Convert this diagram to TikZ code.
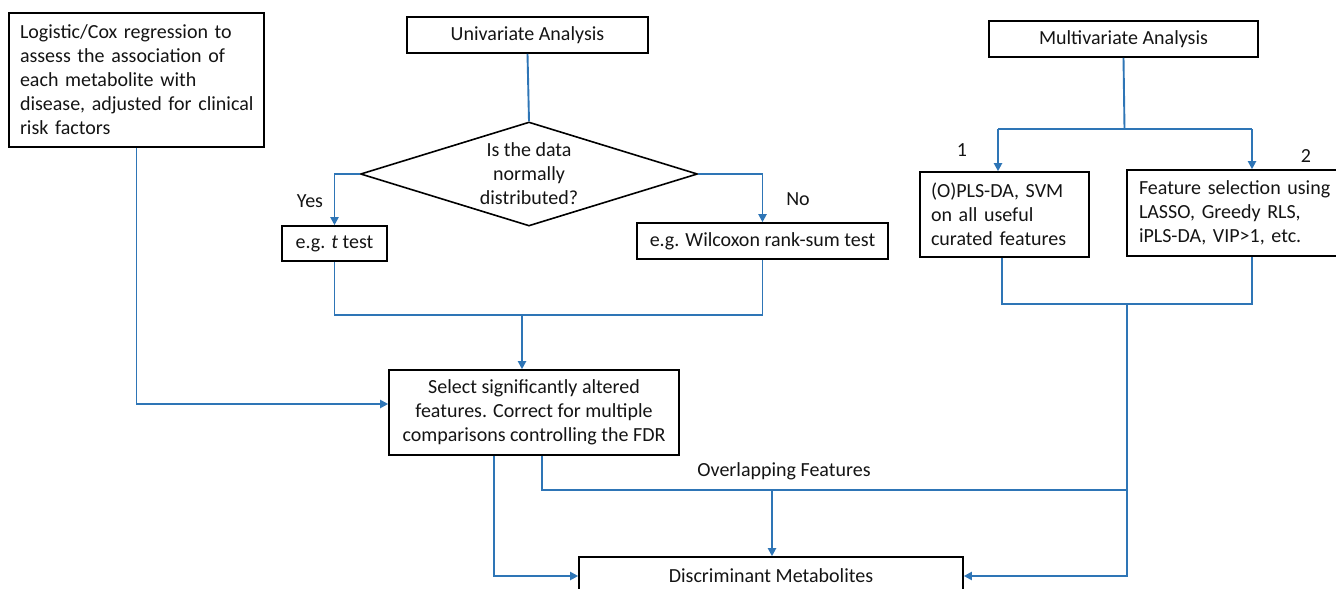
\documentclass[tikz,border=0pt]{standalone}
\usepackage{fontspec}
\setmainfont{Carlito}
\usetikzlibrary{arrows.meta,shapes.geometric,calc}
\definecolor{lblue}{RGB}{46,117,182}
\definecolor{txt}{RGB}{20,20,20}
\begin{document}
\begin{tikzpicture}[x=1pt,y=-1pt,
 box/.style={draw=black, line width=1.6pt, inner ysep=0pt, inner xsep=11pt, font=\fontsize{20}{24}\selectfont, text=txt},
 conn/.style={draw=lblue, line width=1.9pt},
 arr/.style={conn, -{Triangle[length=8pt,width=8pt]}},
 lbl/.style={font=\fontsize{20}{24}\selectfont, inner sep=0pt, text=txt}]
\useasboundingbox (0,0) rectangle (1336,589);
\clip (0,0) rectangle (1336,589);
% nodes
\node[box, text width=233pt, align=left, minimum height=134pt] (logi) at (136.5,80) {\mbox{Logistic/Cox regression to}\\\mbox{assess the association of}\\\mbox{each metabolite with}\\\mbox{disease, adjusted for clinical}\\\mbox{risk factors}};
\node[box, minimum width=241pt, minimum height=36pt] (uni) at (527.5,35) {Univariate Analysis};
\node[draw=black, line width=1.6pt, diamond, aspect=3.24, minimum width=337pt, minimum height=104pt, inner sep=-4pt, align=center, font=\fontsize{20}{24}\selectfont, text=txt] (dia) at (529,174) {Is the data\\normally\\distributed?};
\node[box, minimum width=105pt, minimum height=35pt] (ttest) at (334.5,243.5) {e.g. \textit{t} test};
\node[box, minimum width=251pt, minimum height=36pt] (wil) at (762.5,241) {e.g. Wilcoxon rank-sum test};
\node[box, minimum width=290pt, minimum height=85pt, align=center] (select) at (534,412.5) {Select significantly altered\\features. Correct for multiple\\comparisons controlling the FDR};
\node[box, minimum width=384pt, minimum height=38pt] (disc) at (771,576) {Discriminant Metabolites};
\node[box, minimum width=269pt, minimum height=36pt] (multi) at (1123.5,39) {Multivariate Analysis};
\node[box, text width=147pt, align=left, minimum height=85pt] (m1) at (1004.5,214.5) {\mbox{(O)PLS-DA, SVM}\\\mbox{on all useful}\\\mbox{curated features}};
\node[box, inner xsep=12pt, text width=195pt, align=left, minimum height=86pt] (m2) at (1236.5,213) {\mbox{Feature selection using}\\\mbox{LASSO, Greedy RLS,}\\\mbox{iPLS-DA, VIP>1, etc.}};
% labels
\node[lbl] (yes) at (310,201) {Yes};
\node[lbl] (no) at (798,199) {No};
\node[lbl] (one) at (962,150) {1};
\node[lbl] (two) at (1306,156) {2};
\node[lbl] (ovl) at (784,471) {Overlapping Features};
% connectors
\draw[arr] (logi.south) |- ([yshift=8.5pt]select.west);
\draw[conn] (uni.south) -- (dia.north);
\draw[arr] (dia.west) -| (ttest.north);
\draw[arr] (dia.east) -| (wil.north);
\coordinate (j1) at (522,315);
\draw[conn] (ttest.south) |- (j1) -| (wil.south);
\draw[arr] (j1) -- (j1 |- select.north);
\coordinate (j2) at (1124.5,129);
\coordinate (a1) at (998,129);
\coordinate (a2) at (1252,129);
\draw[conn] (multi.south) -- (j2);
\draw[conn] (a1) -- (a2);
\draw[arr] (a1) -- (a1 |- m1.north);
\draw[arr] (a2) -- (a2 |- m2.north);
\coordinate (b1) at (1002,304);
\coordinate (b2) at (1252,304);
\coordinate (j3) at (1127,304);
\draw[conn] (b1 |- m1.south) -- (b1) -- (b2) -- (b2 |- m2.south);
\draw[arr] (j3) |- (disc.east);
\draw[arr] ([xshift=-40pt]select.south) |- (disc.west);
\coordinate (j4) at (1127,490);
\coordinate (j5) at (772,490);
\draw[conn] ([xshift=8pt]select.south) |- (j4);
\draw[arr] (j5) -- (j5 |- disc.north);
\end{tikzpicture}
\end{document}
